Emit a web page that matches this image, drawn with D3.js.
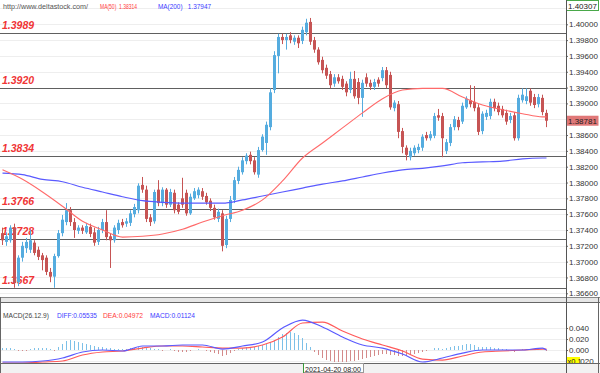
<!DOCTYPE html>
<html><head><meta charset="utf-8">
<script src="https://cdn.jsdelivr.net/npm/d3@7"></script>
<style>body{margin:0;background:#fff}svg{display:block;font-family:"Liberation Sans",Arial,sans-serif}</style>
</head><body><svg id="c" width="600" height="373"></svg>
<script>
// ---- data ----
const open=[1.3736,1.3725,1.3727,1.3743,1.3674,1.3705,1.3717,1.3715,1.3724,1.3715,
1.3708,1.3705,1.3687,1.3681,1.3707,1.3736,1.3750,1.3765,1.3750,1.3739,
1.3743,1.3737,1.3744,1.3737,1.3725,1.3740,1.3750,1.3732,1.3727,1.3740,
1.3750,1.3748,1.3749,1.3760,1.3765,1.3797,1.3791,1.3756,1.3751,1.3791,
1.3774,1.3791,1.3772,1.3787,1.3772,1.3780,1.3787,1.3761,1.3780,1.3784,
1.3789,1.3783,1.3777,1.3768,1.3754,1.3761,1.3721,1.3754,1.3778,1.3802,
1.3813,1.3827,1.3835,1.3828,1.3810,1.3841,1.3850,1.3870,1.3917,1.3960,
1.3984,1.3980,1.3986,1.3978,1.3983,1.3979,1.3990,1.4003,1.3980,1.3968,
1.3955,1.3945,1.3937,1.3925,1.3933,1.3931,1.3925,1.3917,1.3931,1.3927,
1.3907,1.3933,1.3926,1.3921,1.3930,1.3932,1.3942,1.3936,1.3894,1.3899,
1.3865,1.3844,1.3832,1.3837,1.3841,1.3844,1.3860,1.3856,1.3859,1.3885,
1.3884,1.3840,1.3850,1.3870,1.3879,1.3877,1.3895,1.3904,1.3902,1.3895,
1.3865,1.3883,1.3884,1.3902,1.3897,1.3893,1.3888,1.3879,1.3885,1.3856,
1.3904,1.3903,1.3916,1.3908,1.3899,1.3907,1.3888];
const high=[1.3743,1.3737,1.3746,1.3748,1.3708,1.3725,1.3730,1.3740,1.3727,1.3719,
1.3711,1.3708,1.3692,1.3710,1.3740,1.3759,1.3774,1.3769,1.3755,1.3746,
1.3746,1.3749,1.3748,1.3743,1.3744,1.3754,1.3765,1.3736,1.3746,1.3753,
1.3754,1.3755,1.3765,1.3773,1.3799,1.3807,1.3796,1.3760,1.3791,1.3803,
1.3794,1.3793,1.3792,1.3791,1.3775,1.3806,1.3791,1.3786,1.3793,1.3794,
1.3793,1.3787,1.3780,1.3772,1.3767,1.3765,1.3758,1.3783,1.3807,1.3820,
1.3832,1.3837,1.3839,1.3832,1.3845,1.3861,1.3877,1.3919,1.3966,1.3988,
1.3988,1.3988,1.3990,1.3986,1.3986,1.3997,1.4007,1.4008,1.3984,1.3971,
1.3959,1.3949,1.3941,1.3937,1.3937,1.3935,1.3928,1.3940,1.3941,1.3932,
1.3930,1.3938,1.3930,1.3931,1.3933,1.3946,1.3946,1.3940,1.3904,1.3903,
1.3869,1.3847,1.3844,1.3847,1.3849,1.3861,1.3864,1.3865,1.3888,1.3893,
1.3888,1.3855,1.3874,1.3884,1.3883,1.3901,1.3909,1.3923,1.3922,1.3899,
1.3890,1.3892,1.3906,1.3906,1.3901,1.3897,1.3892,1.3888,1.3889,1.3911,
1.3919,1.3919,1.3919,1.3912,1.3912,1.3911,1.3892];
const low=[1.3721,1.3720,1.3724,1.3667,1.3669,1.3700,1.3711,1.3711,1.3708,1.3702,
1.3689,1.3683,1.3674,1.3667,1.3705,1.3732,1.3746,1.3745,1.3730,1.3735,
1.3735,1.3735,1.3731,1.3720,1.3721,1.3736,1.3727,1.3692,1.3724,1.3735,
1.3743,1.3744,1.3745,1.3756,1.3761,1.3787,1.3750,1.3745,1.3748,1.3770,
1.3770,1.3768,1.3769,1.3761,1.3760,1.3768,1.3758,1.3759,1.3778,1.3780,
1.3778,1.3772,1.3764,1.3753,1.3750,1.3713,1.3717,1.3750,1.3774,1.3798,
1.3810,1.3823,1.3823,1.3810,1.3806,1.3839,1.3835,1.3866,1.3913,1.3938,
1.3975,1.3968,1.3976,1.3974,1.3970,1.3975,1.3986,1.3974,1.3964,1.3949,
1.3938,1.3931,1.3919,1.3921,1.3925,1.3917,1.3909,1.3913,1.3906,1.3899,
1.3883,1.3921,1.3917,1.3917,1.3921,1.3928,1.3919,1.3892,1.3890,1.3856,
1.3837,1.3828,1.3828,1.3834,1.3837,1.3840,1.3853,1.3853,1.3856,1.3878,
1.3832,1.3836,1.3846,1.3866,1.3866,1.3874,1.3893,1.3895,1.3890,1.3860,
1.3861,1.3879,1.3880,1.3890,1.3885,1.3882,1.3873,1.3875,1.3853,1.3853,
1.3901,1.3899,1.3897,1.3894,1.3895,1.3885,1.3870];
const close=[1.3727,1.3732,1.3743,1.3673,1.3705,1.3720,1.3725,1.3727,1.3711,1.3706,
1.3702,1.3687,1.3681,1.3707,1.3736,1.3753,1.3765,1.3750,1.3740,1.3743,
1.3739,1.3745,1.3735,1.3724,1.3740,1.3750,1.3731,1.3727,1.3743,1.3749,
1.3746,1.3751,1.3761,1.3769,1.3796,1.3791,1.3754,1.3750,1.3788,1.3774,
1.3791,1.3772,1.3788,1.3765,1.3763,1.3772,1.3761,1.3782,1.3789,1.3791,
1.3782,1.3775,1.3768,1.3756,1.3763,1.3720,1.3754,1.3778,1.3803,1.3816,
1.3828,1.3834,1.3827,1.3813,1.3841,1.3858,1.3873,1.3914,1.3961,1.3984,
1.3980,1.3984,1.3980,1.3983,1.3976,1.3993,1.4002,1.3978,1.3968,1.3952,
1.3942,1.3935,1.3923,1.3933,1.3928,1.3921,1.3914,1.3931,1.3909,1.3907,
1.3926,1.3925,1.3921,1.3927,1.3925,1.3942,1.3923,1.3895,1.3901,1.3864,
1.3845,1.3835,1.3840,1.3844,1.3845,1.3858,1.3856,1.3861,1.3884,1.3882,
1.3856,1.3851,1.3870,1.3880,1.3870,1.3897,1.3906,1.3899,1.3894,1.3864,
1.3887,1.3888,1.3902,1.3894,1.3889,1.3885,1.3877,1.3884,1.3856,1.3907,
1.3911,1.3909,1.3901,1.3898,1.3908,1.3889,1.38781];

// sampled candle indices for the smooth indicator lines
const lineIdx=[0,5,10,15,20,25,30,35,40,45,50,55,60,65,70,75,80,85,90,95,100,105,110,115,120,125,130,135,136];
const ma50=[1.3816,1.3804,1.3788,1.3770,1.3751,1.3740,1.3731,1.3732,1.3735,1.3741,1.3750,1.3758,1.3765,1.3778,1.3802,1.3831,1.3850,1.3869,1.3888,1.3906,1.3917,1.3919,1.3919,1.3908,1.3898,1.3892,1.3887,1.3883,1.3883];
const ma200=[1.3812,1.3810,1.3804,1.3801,1.3794,1.3788,1.3782,1.3777,1.3775,1.3774,1.3774,1.3774,1.3778,1.3783,1.3788,1.3793,1.3798,1.3802,1.3807,1.3812,1.3816,1.3818,1.3821,1.3825,1.3826,1.3827,1.3830,1.3831,1.3831];
const diff=[-0.0218,-0.0218,-0.0200,-0.0145,-0.0036,0,-0.0018,0.0073,0.0073,0.0091,0.0091,0.0018,0.0073,0.0145,0.0400,0.0545,0.0418,0.0236,0.0091,0.0036,-0.0073,-0.0218,-0.0145,-0.0055,0,0,0,0.0036,0];
const dea=[-0.0236,-0.0236,-0.0218,-0.0200,-0.0091,-0.0036,-0.0018,0.0036,0.0073,0.0073,0.0055,0.0036,0.0036,0.0091,0.0236,0.0491,0.0509,0.0345,0.0200,0.0091,-0.0018,-0.0164,-0.0182,-0.0109,-0.0036,-0.0018,0,0.0018,0.0018];
const macdHist=[0.0036,0.0036,0.0036,0.0018,-0.0018,-0.0018,-0.0018,0.0018,0.0036,0.0036,
0.0036,0.0036,0.0018,-0.0018,0.0055,0.0109,0.0164,0.0182,0.0164,0.0145,
0.0127,0.0109,0.0091,0.0073,0.0055,0.0055,0.0036,0.0036,0.0018,0.0018,
0.0018,0.0018,0.0036,0.0036,0.0055,0.0055,0.0036,0.0036,0.0018,0.0018,
-0.0018,0,0.0018,-0.0018,-0.0036,-0.0036,-0.0036,-0.0018,0,0.0018,
0,-0.0018,-0.0036,-0.0055,-0.0073,-0.0109,-0.0091,-0.0055,-0.0018,0.0018,
0.0036,0.0055,0.0055,0.0055,0.0073,0.0091,0.0109,0.0145,0.0182,0.0236,
0.0291,0.0309,0.0327,0.0309,0.0273,0.0218,0.0127,0.0055,-0.0036,-0.0091,
-0.0145,-0.0182,-0.0200,-0.0218,-0.0218,-0.0218,-0.0218,-0.0200,-0.0200,-0.0182,
-0.0164,-0.0145,-0.0127,-0.0109,-0.0091,-0.0073,-0.0073,-0.0091,-0.0091,-0.0109,
-0.0109,-0.0109,-0.0091,-0.0073,-0.0055,-0.0036,-0.0018,0,0.0036,0.0036,
0.0018,0.0036,0.0055,0.0073,0.0073,0.0091,0.0109,0.0109,0.0091,0.0055,
0.0055,0.0055,0.0055,0.0036,0.0036,0.0018,0.0018,0,-0.0036,0,
0.0018,0.0018,0.0018,0.0018,0.0018,0,-0.0018];

const levels=[1.3989,1.3920,1.3834,1.3766,1.3728,1.3667];
const gridTicks=[1.366,1.368,1.370,1.372,1.374,1.376,1.378,1.380,1.382,1.384,1.386,1.388,1.390,1.392,1.394,1.396,1.398,1.400,1.402];
const priceTicks=[1.366,1.368,1.370,1.372,1.374,1.376,1.378,1.380,1.382,1.384,1.386,1.388,1.390,1.392,1.394,1.396,1.398,1.400];
const macdTicks=[-0.02,0,0.02,0.04];
const priceTop=1.40307;
const dateLabel="2021-04-20 08:00";

// ---- drawing ----
const svg=d3.select("#c");
const PW=566, PB=297, MT=303, MB=363;
svg.append("rect").attr("width",600).attr("height",373).attr("fill","#fff");

const x=d3.scaleLinear().domain([0,open.length-1]).range([2,2+4*(open.length-1)]);
const y=d3.scaleLinear().domain([1.36553,priceTop]).range([PB,0]);
const ym=d3.scaleLinear().domain([-0.0236,0.0855]).range([MB,MT]);
const cy=v=>Math.round(y(v))+0.5;

// grid
svg.append("g").selectAll("line").data(gridTicks).join("line")
  .attr("x1",0).attr("x2",PW).attr("y1",d=>cy(d)).attr("y2",d=>cy(d))
  .attr("stroke","#eeeeee");

// level lines + labels
const lv=svg.append("g");
lv.selectAll("line").data(levels).join("line")
  .attr("x1",0).attr("x2",PW).attr("y1",d=>cy(d)).attr("y2",d=>cy(d))
  .attr("stroke","#606060").attr("stroke-width",1.2);
lv.selectAll("text").data(levels).join("text")
  .attr("x",2).attr("y",d=>y(d)-4)
  .attr("font-size",10.5).attr("font-weight","bold").attr("font-style","italic")
  .attr("fill","#f03535").text(d=>d.toFixed(4));

// clip
svg.append("clipPath").attr("id","pc").append("rect").attr("x",0).attr("y",0).attr("width",PW).attr("height",PB);

// candles
const idx=d3.range(open.length);
const up=i=>close[i]>=open[i];
const BLUE="#55acdf", RED="#c65454";
const cg=svg.append("g").attr("clip-path","url(#pc)");
cg.selectAll("line").data(idx).join("line")
  .attr("x1",i=>x(i)+0.5).attr("x2",i=>x(i)+0.5)
  .attr("y1",i=>y(high[i])).attr("y2",i=>y(low[i]))
  .attr("stroke",i=>up(i)?BLUE:RED);
cg.selectAll("rect").data(idx).join("rect")
  .attr("x",i=>x(i)-1).attr("width",3)
  .attr("y",i=>y(Math.max(open[i],close[i])))
  .attr("height",i=>Math.max(1,Math.abs(y(open[i])-y(close[i]))))
  .attr("fill",i=>up(i)?BLUE:RED);

// moving averages
const mkLine=(sc,vals)=>d3.line().x((d,k)=>x(lineIdx[k])+0.5).y(d=>sc(d)).curve(d3.curveMonotoneX)(vals);
cg.append("path").attr("d",mkLine(y,ma200)).attr("fill","none").attr("stroke","#5a5aff").attr("stroke-width",1.2);
cg.append("path").attr("d",mkLine(y,ma50)).attr("fill","none").attr("stroke","#ff6a6a").attr("stroke-width",1.1);

// header
const txt=(g,xx,yy,s,fill,len)=>g.append("text").attr("x",xx).attr("y",yy).attr("font-size",8)
  .attr("fill",fill).attr("textLength",len).attr("lengthAdjust","spacingAndGlyphs").attr("xml:space","preserve").text(s);
txt(svg,3,9,"http://www.deltastock.com/","#555",85);
txt(svg,100,9,"MA(50)  1.38314","#ff3c3c",37);
txt(svg,158,9,"MA(200)   1.37947","#3c3cff",53);

// panel separators
svg.append("rect").attr("x",0).attr("y",PB+1).attr("width",600).attr("height",MT-PB-1).attr("fill","#e6e6e6");
svg.append("line").attr("x1",0).attr("x2",600).attr("y1",PB+0.5).attr("y2",PB+0.5).attr("stroke","#888");
svg.append("line").attr("x1",0).attr("x2",600).attr("y1",MT-0.5).attr("y2",MT-0.5).attr("stroke","#666");

// price axis
const ax=svg.append("g").attr("transform",`translate(${PW},0)`)
  .call(d3.axisRight(y).tickValues(priceTicks).tickSize(2).tickPadding(1).tickFormat(d3.format(".5f")));
ax.select(".domain").remove();
ax.selectAll("text").attr("font-size",8).attr("fill","#333").attr("font-family","Liberation Sans, Arial");
ax.selectAll("line").attr("stroke","#666");

// top value box
svg.append("rect").attr("x",PW+0.5).attr("y",0.5).attr("width",32).attr("height",10).attr("fill","#fff").attr("stroke","#49a849");
svg.append("text").attr("x",PW+2).attr("y",8.5).attr("font-size",8).attr("fill","#222").text(priceTop.toFixed(5));

// last price box
const lastC=close[close.length-1];
svg.append("rect").attr("x",PW+0.5).attr("y",y(lastC)-5).attr("width",32).attr("height",10).attr("fill","#e07878");
svg.append("text").attr("x",PW+2).attr("y",y(lastC)+3).attr("font-size",8).attr("fill","#222").text(lastC.toFixed(5));

// MACD panel
const mcy=v=>Math.round(ym(v))+0.5;
svg.append("g").selectAll("line").data(macdTicks).join("line")
  .attr("x1",0).attr("x2",PW).attr("y1",d=>mcy(d)).attr("y2",d=>mcy(d)).attr("stroke","#eeeeee");
svg.append("clipPath").attr("id","mc").append("rect").attr("x",0).attr("y",MT).attr("width",PW).attr("height",MB-MT);
const mg=svg.append("g").attr("clip-path","url(#mc)");
mg.selectAll("line").data(idx).join("line")
  .attr("x1",i=>x(i)+0.5).attr("x2",i=>x(i)+0.5)
  .attr("y1",ym(0)).attr("y2",i=>ym(macdHist[i]))
  .attr("stroke",i=>macdHist[i]>=0?"#7cc0e8":"#d48a8a");
mg.append("path").attr("d",mkLine(ym,dea)).attr("fill","none").attr("stroke","#ff5a5a").attr("stroke-width",1.2);
mg.append("path").attr("d",mkLine(ym,diff)).attr("fill","none").attr("stroke","#5a5aff").attr("stroke-width",1.2);

txt(svg,3,318,"MACD(26.12.9)","#444",46);
txt(svg,57,318,"DIFF:0.05535","#3c3cff",40);
txt(svg,103,318,"DEA:0.04972","#ff3c3c",40);
txt(svg,150,318,"MACD:0.01124","#3c3cff",45);

const max2=svg.append("g").attr("transform",`translate(${PW},0)`)
  .call(d3.axisRight(ym).tickValues(macdTicks).tickSize(2).tickPadding(1).tickFormat(d3.format(".3f")));
max2.select(".domain").remove();
max2.selectAll("text").attr("font-size",8).attr("fill","#333").attr("font-family","Liberation Sans, Arial");
max2.selectAll("line").attr("stroke","#666");
svg.append("rect").attr("x",PW+1).attr("y",357).attr("width",13).attr("height",8).attr("fill","#ffff00");
svg.append("text").attr("x",PW+1.5).attr("y",364).attr("font-size",7.5).attr("fill","#222").text("x0.1");

// bottom time strip
svg.append("rect").attr("x",0).attr("y",MB).attr("width",600).attr("height",373-MB).attr("fill","#f2f2f2");
svg.append("line").attr("x1",0).attr("x2",600).attr("y1",MB+0.5).attr("y2",MB+0.5).attr("stroke","#666");
svg.append("rect").attr("x",303.5).attr("y",MB+0.5).attr("width",60).attr("height",9).attr("fill","#fff").attr("stroke","#999");
svg.append("line").attr("x1",303.5).attr("x2",303.5).attr("y1",MB).attr("y2",373).attr("stroke","#3a9a3a");
svg.append("text").attr("x",305).attr("y",371.5).attr("font-size",8).attr("fill","#222")
  .attr("textLength",56).attr("lengthAdjust","spacingAndGlyphs").text(dateLabel);

// frame lines
svg.append("line").attr("x1",PW+0.5).attr("x2",PW+0.5).attr("y1",0).attr("y2",373).attr("stroke","#555");
svg.append("line").attr("x1",0.5).attr("x2",0.5).attr("y1",PB).attr("y2",373).attr("stroke","#666");
svg.append("line").attr("x1",598.5).attr("x2",598.5).attr("y1",PB).attr("y2",373).attr("stroke","#666");
</script></body></html>
